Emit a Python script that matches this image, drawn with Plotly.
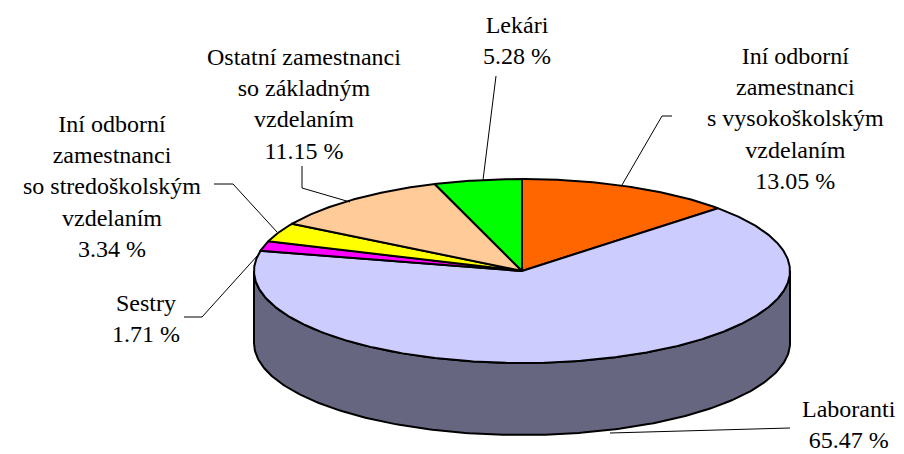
import numpy as np
import plotly.graph_objects as go

# ---- data ----
categories = [
    "Iní odborní<br>zamestnanci<br>s vysokoškolským<br>vzdelaním",
    "Laboranti",
    "Sestry",
    "Iní odborní<br>zamestnanci<br>so stredoškolským<br>vzdelaním",
    "Ostatní zamestnanci<br>so základným<br>vzdelaním",
    "Lekári",
]
values = [13.05, 65.47, 1.71, 3.34, 11.15, 5.28]
top_colors = ["#FF6600", "#CCCCFF", "#FF00FF", "#FFFF00", "#FFCC99", "#00FF00"]
side_colors = ["#803300", "#666680", "#800080", "#808000", "#806650", "#008000"]

# ---- geometry (layout) ----
W, H = 904, 454
OFF = 8  # page body margin
cx, cy, rx, ry, depth = 522, 271, 268, 92, 72
FONT = "'Liberation Serif', 'DejaVu Serif', serif"

def pt(theta_deg, dy=0.0):
    t = np.radians(theta_deg)
    return cx + rx * np.sin(t), cy - ry * np.cos(t) + dy

fig = go.Figure()

total = sum(values)
fracs = np.array(values) / total
starts = np.concatenate([[0], np.cumsum(fracs)[:-1]]) * 360
ends = np.cumsum(fracs) * 360

# side walls (front half: 90..270 deg)
for a0, a1, sc in zip(starts, ends, side_colors):
    lo, hi = max(a0, 90), min(a1, 270)
    if hi <= lo:
        continue
    th = np.linspace(lo, hi, 200)
    xs_top, ys_top = pt(th)
    xs_bot, ys_bot = pt(th[::-1], depth)
    xs = np.concatenate([xs_top, xs_bot, [xs_top[0]]])
    ys = np.concatenate([ys_top, ys_bot, [ys_top[0]]])
    fig.add_trace(go.Scatter(x=xs, y=ys, mode="lines", fill="toself",
                             fillcolor=sc, line=dict(color="black", width=2),
                             hoverinfo="skip", showlegend=False))

# top faces
for a0, a1, tc in zip(starts, ends, top_colors):
    th = np.linspace(a0, a1, max(3, int((a1 - a0) * 2)))
    xa, ya = pt(th)
    xs = np.concatenate([[cx], xa, [cx]])
    ys = np.concatenate([[cy], ya, [cy]])
    fig.add_trace(go.Scatter(x=xs, y=ys, mode="lines", fill="toself",
                             fillcolor=tc, line=dict(color="black", width=2),
                             hoverinfo="skip", showlegend=False))

# labels and leader lines
label_pos = [(795, 118), (849, 424), (146, 318), (112, 186), (304, 104), (517, 40)]
leaders = [
    [(672, 116), (662, 116), (622, 185)],
    [(790, 428), (610, 433)],
    [(184, 317), (202, 317), (258, 255)],
    [(214, 184), (233, 184), (277, 232)],
    [(302, 166), (302, 188), (350, 202)],
    [(496, 76), (483, 180)],
]
for name, v, (lx, ly), ld in zip(categories, values, label_pos, leaders):
    fig.add_annotation(x=lx, y=ly, xref="x", yref="y",
                       text=f"{name}<br>{v:.2f} %", showarrow=False,
                       align="center", xanchor="center", yanchor="middle",
                       font=dict(family=FONT, size=24, color="black"))
    fig.add_trace(go.Scatter(x=[p[0] for p in ld], y=[p[1] for p in ld],
                             mode="lines", line=dict(color="black", width=1),
                             hoverinfo="skip", showlegend=False))

fig.update_layout(
    width=W - OFF, height=H - OFF,
    margin=dict(l=0, r=0, t=0, b=0),
    paper_bgcolor="white", plot_bgcolor="white",
    font=dict(family=FONT),
    xaxis=dict(range=[OFF, W], visible=False, fixedrange=True),
    yaxis=dict(range=[H, OFF], visible=False, fixedrange=True),
    showlegend=False,
)

fig.write_html("out.html")
